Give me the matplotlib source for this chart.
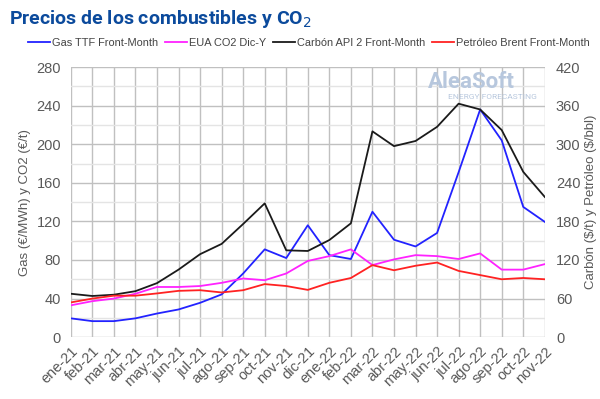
import matplotlib.pyplot as plt
import numpy as np

# Data
months = ["ene-21", "feb-21", "mar-21", "abr-21", "may-21", "jun-21", "jul-21", "ago-21",
          "sep-21", "oct-21", "nov-21", "dic-21", "ene-22", "feb-22", "mar-22", "abr-22",
          "may-22", "jun-22", "jul-22", "ago-22", "sep-22", "oct-22", "nov-22"]
gas_ttf = [19.5, 16.6, 16.6, 19.5, 24.5, 28.7, 35.6, 44.3, 66, 91, 82, 116, 85, 81,
           130, 101, 94, 108, 171, 236, 204, 135, 119.5]
eua_co2 = [33, 37.3, 40, 45, 52, 52, 53, 56.3, 60.8, 59, 66, 79, 84, 91, 74.7, 80.6,
           85, 84, 81, 86.8, 70, 70, 75.7]
carbon_api2 = [67.5, 64, 66, 71.5, 84, 105, 129, 145, 176, 208, 135, 134, 151, 177,
               320, 297, 305, 327, 363, 354, 322, 257, 218]
brent = [54, 60, 64.5, 64.5, 68, 72, 73, 69.5, 73, 82.5, 79.5, 73.5, 84.5, 92, 112,
         104, 111, 116, 103, 96.5, 90, 92, 90]

x = np.arange(len(months))
gray = "#595959"
plt.rcParams['font.family'] = ['Liberation Sans', 'DejaVu Sans']

fig = plt.figure(figsize=(6.0, 3.99), dpi=100)
ax = fig.add_axes([0.118, 0.155, 0.79, 0.677])
ax2 = ax.twinx()

ax.plot(x, gas_ttf, color="#2222ff", lw=1.3, label="Gas TTF Front-Month")
ax.plot(x, eua_co2, color="#ff22ff", lw=1.3, label="EUA CO2 Dic-Y")
ax2.plot(x, carbon_api2, color="#1a1a1a", lw=1.3, label="Carbón API 2 Front-Month")
ax2.plot(x, brent, color="#ff2222", lw=1.3, label="Petróleo Brent Front-Month")

ax.set_xlim(0, len(months) - 1)
ax.set_ylim(0, 280)
ax2.set_ylim(0, 420)
ax.set_yticks(np.arange(0, 281, 40))
ax.set_yticks(np.arange(20, 281, 40), minor=True)
ax2.set_yticks(np.arange(0, 421, 60))
ax.set_xticks(x)
ax.set_xticklabels(months, rotation=45, ha="right", rotation_mode="anchor")

ax.grid(which="major", color="#c0c0c0", lw=1.0)
ax.grid(which="minor", axis="y", color="#e4e4e4", lw=1.0)
ax.set_axisbelow(True)
for a in (ax, ax2):
    for s in a.spines.values():
        s.set_visible(False)
    a.tick_params(axis="both", which="both", length=0, colors=gray, labelsize=10.5)
ax.tick_params(axis="x", pad=5)
ax.tick_params(axis="y", pad=7)
ax2.tick_params(axis="y", pad=8)

ax.set_ylabel("Gas (€/MWh) y CO2 (€/t)", color=gray, fontsize=9.5, labelpad=4)
ax2.set_ylabel(r"Carbón (\$/t) y Petróleo (\$/bbl)", color=gray, fontsize=9.5, labelpad=3)

fig.text(0.015, 0.94, "Precios de los combustibles y CO$_2$", fontsize=14,
         fontweight="bold", color="#0b4a9c", family="Roboto")

h1, l1 = ax.get_legend_handles_labels()
h2, l2 = ax2.get_legend_handles_labels()
leg = fig.legend(h1 + h2, l1 + l2, loc="center", bbox_to_anchor=(0.515, 0.893), ncol=4,
                 frameon=False, fontsize=7.9, handlelength=2.0, handletextpad=0.2,
                 columnspacing=0.6)
for t in leg.get_texts():
    t.set_color("#444444")

# watermark
ax.text(0.846, 0.944, "AleaSoft", transform=ax.transAxes, fontsize=16, fontweight="bold",
        color="#b7c7dd", ha="center", va="center", family="Roboto")
ax.text(0.89, 0.889, "ENERGY FORECASTING", transform=ax.transAxes, fontsize=6,
        color="#b7c7dd", ha="center", va="center", family="Roboto")

fig.savefig("out.png", dpi=100)
